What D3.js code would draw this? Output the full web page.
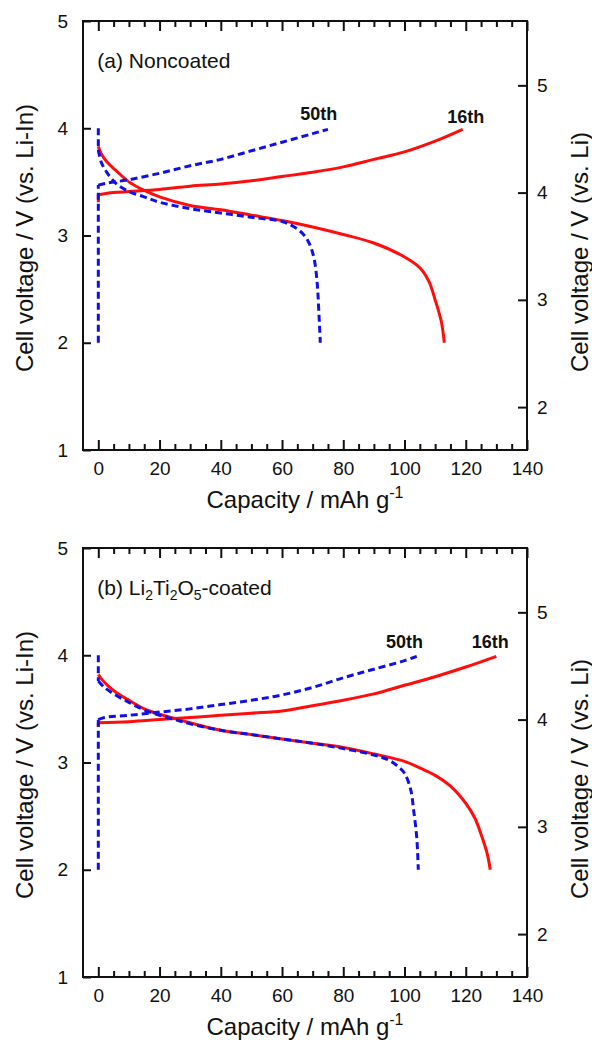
<!DOCTYPE html>
<html>
<head>
<meta charset="utf-8">
<script src="https://cdn.jsdelivr.net/npm/d3@7"></script>
<style>
  body { margin: 0; background: #fff; }
  svg text { font-family: "Liberation Sans", Arial, sans-serif; fill: #111; }
</style>
</head>
<body>
<svg id="chart"></svg>
<script>
// Tick values
const capTicks = [0, 20, 40, 60, 80, 100, 120, 140];
const capMinorTicks = [5, 10, 15, 25, 30, 35, 45, 50, 55, 65, 70, 75, 85, 90, 95, 105, 110, 115, 125, 130, 135];
const voltTicksLiIn = [1, 2, 3, 4, 5];
const voltTicksLi = [2, 3, 4, 5];
const liInVsLi = 0.6; // Li-In electrode potential vs. Li

// (a) Noncoated  [capacity, voltage vs. Li-In]
const a16Charge = [[0, 3.31], [0, 3.38], [5, 3.40], [10, 3.41], [20, 3.43], [30, 3.46], [40, 3.48], [50, 3.51],
  [60, 3.55], [70, 3.59], [80, 3.64], [90, 3.71], [100, 3.78], [110, 3.88], [119, 3.99]];
const a16Discharge = [[0, 3.83], [1, 3.76], [3, 3.68], [6, 3.6], [10, 3.5], [15, 3.42], [20, 3.36], [30, 3.28],
  [40, 3.24], [50, 3.19], [60, 3.14], [70, 3.08], [80, 3.01], [90, 2.93], [100, 2.8], [105, 2.7], [108, 2.57],
  [110, 2.4], [112, 2.2], [113, 2.0]];
const a50Charge = [[0, 2.0], [0, 3.47], [3, 3.49], [10, 3.52], [20, 3.58], [30, 3.65], [40, 3.71], [50, 3.79],
  [60, 3.87], [70, 3.95], [75, 3.99]];
const a50Discharge = [[0, 4.0], [0, 3.8], [1, 3.68], [3, 3.58], [6, 3.48], [10, 3.41], [15, 3.36], [20, 3.31],
  [30, 3.25], [40, 3.21], [50, 3.17], [60, 3.13], [64, 3.08], [67, 3.01], [69, 2.92], [70.5, 2.78], [71.5, 2.55],
  [72, 2.3], [72.5, 2.0]];

// (b) Li2Ti2O5-coated
const b16Charge = [[0, 3.33], [0, 3.37], [10, 3.38], [20, 3.40], [30, 3.42], [40, 3.44], [50, 3.46], [60, 3.48],
  [70, 3.53], [80, 3.58], [90, 3.64], [100, 3.72], [110, 3.80], [120, 3.89], [130, 3.99]];
const b16Discharge = [[0, 3.82], [1, 3.78], [3, 3.72], [6, 3.65], [10, 3.58], [15, 3.5], [20, 3.45], [25, 3.41],
  [30, 3.37], [40, 3.3], [50, 3.26], [60, 3.22], [70, 3.18], [80, 3.14], [90, 3.08], [100, 3.01], [105, 2.95],
  [110, 2.88], [115, 2.78], [120, 2.62], [123, 2.48], [125, 2.33], [127, 2.15], [128, 2.0]];
const b50Charge = [[0, 2.0], [0, 3.40], [2, 3.42], [10, 3.44], [20, 3.47], [30, 3.50], [40, 3.54], [50, 3.58],
  [60, 3.63], [70, 3.70], [80, 3.79], [90, 3.87], [100, 3.95], [104, 3.99]];
const b50Discharge = [[0, 4.0], [0, 3.76], [2, 3.70], [5, 3.64], [10, 3.56], [15, 3.49], [20, 3.44], [25, 3.40],
  [30, 3.36], [40, 3.30], [50, 3.26], [60, 3.22], [70, 3.18], [80, 3.13], [90, 3.07], [95, 3.02], [98, 2.96],
  [100, 2.9], [102, 2.75], [103, 2.55], [104, 2.3], [104.5, 2.0]];

// Cycle labels [capacity, voltage] of label centre
const aLabel50 = [72, 4.08];
const aLabel16 = [120, 4.05];
const bLabel50 = [100, 4.07];
const bLabel16 = [128, 4.07];

const svg = d3.select("#chart").attr("width", 592).attr("height", 1042);

const plotLeft = 83, plotRight = 527, plotHeight = 429;
const red = "#ff0d0d", blue = "#1010e6";

function drawPanel(top, p) {
  const x = d3.scaleLinear().domain([-5, 140]).range([plotLeft, plotRight]);
  const y = d3.scaleLinear().domain([1, 5]).range([top + plotHeight, top]);
  const y2 = d3.scaleLinear().domain([1 + liInVsLi, 5 + liInVsLi]).range([top + plotHeight, top]);
  const g = svg.append("g");

  const styleAxis = (ax) => {
    ax.select(".domain").remove();
    ax.selectAll("line").attr("stroke", "#111").attr("stroke-width", 2);
    ax.selectAll("text").attr("font-size", 19).attr("font-family", null).attr("fill", "#111");
  };

  // bottom axis
  g.append("g").attr("transform", `translate(0,${top + plotHeight})`)
    .call(d3.axisBottom(x).tickValues(capTicks).tickSize(-10).tickPadding(12).tickFormat(d3.format("d")))
    .call(styleAxis);
  g.append("g").attr("transform", `translate(0,${top + plotHeight})`)
    .call(d3.axisBottom(x).tickValues(capMinorTicks).tickSize(-6).tickFormat(""))
    .call(styleAxis);
  // top axis
  g.append("g").attr("transform", `translate(0,${top})`)
    .call(d3.axisTop(x).tickValues(capTicks).tickSize(-10).tickFormat(""))
    .call(styleAxis);
  g.append("g").attr("transform", `translate(0,${top})`)
    .call(d3.axisTop(x).tickValues(capMinorTicks).tickSize(-6).tickFormat(""))
    .call(styleAxis);
  // left axis (vs. Li-In)
  g.append("g").attr("transform", `translate(${plotLeft},0)`)
    .call(d3.axisLeft(y).tickValues(voltTicksLiIn).tickSize(-8).tickPadding(15).tickFormat(d3.format("d")))
    .call(styleAxis);
  // right axis (vs. Li)
  g.append("g").attr("transform", `translate(${plotRight},0)`)
    .call(d3.axisRight(y2).tickValues(voltTicksLi).tickSize(-9).tickPadding(10).tickFormat(d3.format("d")))
    .call(styleAxis);

  // frame
  g.append("rect")
    .attr("x", plotLeft).attr("y", top)
    .attr("width", plotRight - plotLeft).attr("height", plotHeight)
    .attr("fill", "none").attr("stroke", "#111").attr("stroke-width", 2);

  // curves: straight vertical step at zero capacity, smooth curve after it
  const smooth = d3.line().x(d => x(d[0])).y(d => y(d[1])).curve(d3.curveCatmullRom.alpha(0.5));
  const straight = d3.line().x(d => x(d[0])).y(d => y(d[1]));
  const drawSeries = (s, color, dash) => {
    const k = d3.max(s.map((d, i) => (d[0] === 0 ? i : -1)));
    const path = (k > 0 ? straight(s.slice(0, k + 1)) : "") + smooth(s.slice(Math.max(k, 0)));
    g.append("path").attr("d", path)
      .attr("fill", "none").attr("stroke", color).attr("stroke-width", 3)
      .attr("stroke-linejoin", "round")
      .attr("stroke-dasharray", dash);
  };

  drawSeries(p.c16, red, null);
  drawSeries(p.d16, red, null);
  drawSeries(p.c50, blue, "7,4");
  drawSeries(p.d50, blue, "7,4");

  // cycle labels
  [[p.l50, "50th"], [p.l16, "16th"]].forEach(([pos, t]) => {
    g.append("text").attr("x", x(pos[0])).attr("y", y(pos[1]))
      .attr("text-anchor", "middle").attr("font-size", 18).attr("font-weight", "bold").text(t);
  });

  // panel label
  const lab = g.append("text").attr("x", x(0) - 1).attr("y", top + 47).attr("font-size", 21);
  p.title(lab);

  // axis titles
  g.append("text")
    .attr("transform", `translate(33,${top + 217}) rotate(-90)`)
    .attr("text-anchor", "middle").attr("font-size", 24)
    .text("Cell voltage / V (vs. Li-In)");
  g.append("text")
    .attr("transform", `translate(588,${top + 231}) rotate(-90)`)
    .attr("text-anchor", "middle").attr("font-size", 24)
    .text("Cell voltage / V (vs. Li)");

  const xt = g.append("text").attr("x", (plotLeft + plotRight) / 2).attr("y", top + plotHeight + 58)
    .attr("text-anchor", "middle").attr("font-size", 24);
  xt.append("tspan").text("Capacity / mAh g");
  xt.append("tspan").attr("font-size", 16).attr("dy", -10).text("-1");
}

drawPanel(21, {
  c16: a16Charge, d16: a16Discharge, c50: a50Charge, d50: a50Discharge,
  l50: aLabel50, l16: aLabel16,
  title: t => t.text("(a) Noncoated")
});

drawPanel(548, {
  c16: b16Charge, d16: b16Discharge, c50: b50Charge, d50: b50Discharge,
  l50: bLabel50, l16: bLabel16,
  title: t => {
    t.append("tspan").text("(b) Li");
    t.append("tspan").attr("font-size", 14).attr("dy", 5).text("2");
    t.append("tspan").attr("dy", -5).text("Ti");
    t.append("tspan").attr("font-size", 14).attr("dy", 5).text("2");
    t.append("tspan").attr("dy", -5).text("O");
    t.append("tspan").attr("font-size", 14).attr("dy", 5).text("5");
    t.append("tspan").attr("dy", -5).text("-coated");
  }
});
</script>
</body>
</html>
